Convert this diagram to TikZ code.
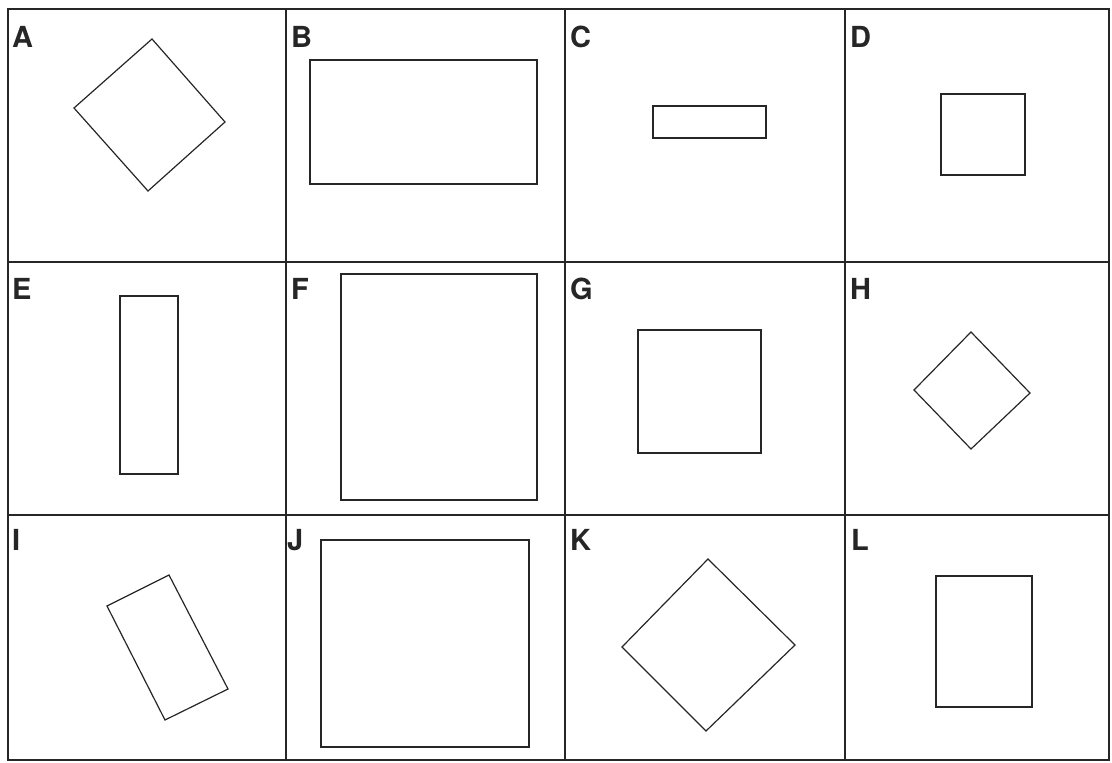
\documentclass[tikz,border=0pt]{standalone}
\usepackage{fontspec}
\setmainfont{TeX Gyre Heros}
\begin{document}
\begin{tikzpicture}[x=1pt,y=-1pt,
  grid/.style={line width=1.1pt, draw=black!85},
  figline/.style={line width=1.2pt, draw=black!85, line join=miter},
  lab/.style={anchor=north west, inner sep=0pt, font=\fontsize{29}{29}\selectfont\bfseries, text=black!85}]
\useasboundingbox (0,0) rectangle (1112,763);
% grid
\draw[grid] (8,9) rectangle (1109,760);
\draw[grid] (286,9) -- (286,760);
\draw[grid] (565,9) -- (565,760);
\draw[grid] (845,9) -- (845,760);
\draw[grid] (8,262) -- (1109,262);
\draw[grid] (8,515) -- (1109,515);
% labels
\node[lab] (la) at (12,26) {A};
\node[lab] (lb) at (291,26) {B};
\node[lab] (lc) at (570,26) {C};
\node[lab] (ld) at (850,26) {D};
\node[lab] (le) at (12,278) {E};
\node[lab] (lf) at (291,278) {F};
\node[lab] (lg) at (570,278) {G};
\node[lab] (lh) at (850,278) {H};
\node[lab] (li) at (12,529) {I};
\node[lab] (lj) at (287,529) {J};
\node[lab] (lk) at (570,529) {K};
\node[lab] (ll) at (851,529) {L};
% shapes
\draw[figline] (152,39) -- (225,122) -- (148,191) -- (74,108) -- cycle;
\draw[figline] (310,60) rectangle (537,184);
\draw[figline] (653,106) rectangle (766,138);
\draw[figline] (941,94) rectangle (1025,175);
\draw[figline] (120,296) rectangle (178,474);
\draw[figline] (341,274) rectangle (537,500);
\draw[figline] (638,330) rectangle (761,453);
\draw[figline] (971,332) -- (1030,393) -- (971,449) -- (914,390) -- cycle;
\draw[figline] (107,606) -- (169,575) -- (228,689) -- (165,720) -- cycle;
\draw[figline] (321,540) rectangle (529,747);
\draw[figline] (708,559) -- (795,645) -- (706,731) -- (622,647) -- cycle;
\draw[figline] (936,576) rectangle (1032,707);
\end{tikzpicture}
\end{document}
